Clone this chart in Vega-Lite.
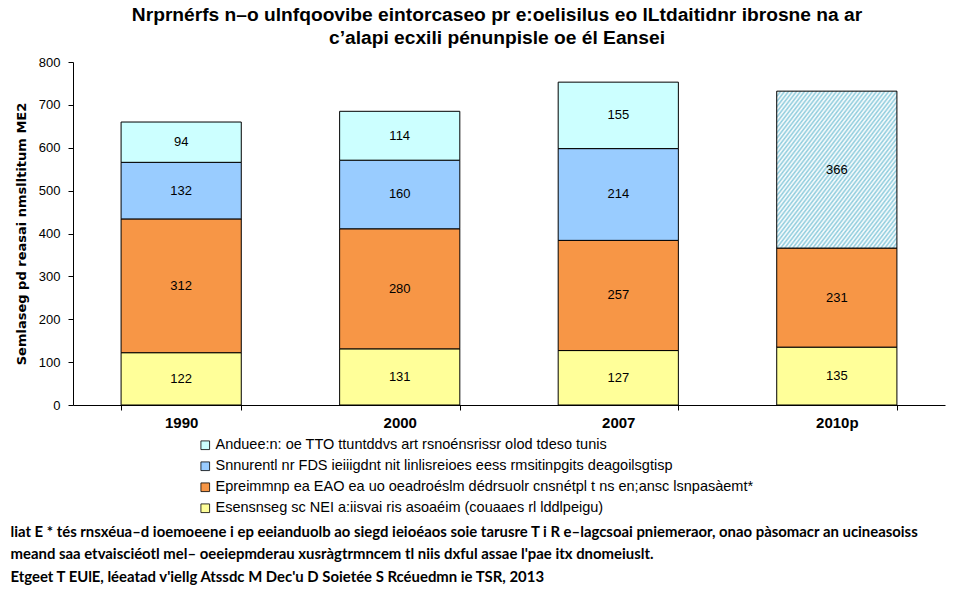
{
  "$schema": "https://vega.github.io/schema/vega-lite/v6.json",
  "width": 872,
  "height": 343,
  "autosize": {"type": "none"},
  "padding": {"left": 73, "top": 62, "right": 13, "bottom": 186},
  "background": "white",
  "config": {"view": {"stroke": null}, "font": "Liberation Sans"},
  "title": {
    "text": ["Nrprnérfs n–o ulnfqoovibe eintorcaseo pr e:oelisilus eo lLtdaitidnr ibrosne na ar", "c’alapi ecxili pénunpisle oe él Eansei"],
    "fontSize": 19.2, "fontWeight": "bold", "font": "Liberation Sans", "color": "black",
    "anchor": "middle", "dx": -12, "offset": 8, "lineHeight": 23
  },
  "data": {
    "values": [
      {"year": "1990", "cat": "Esensnseg sc NEI a:iisvai ris asoaéim (couaaes rl lddlpeigu)", "value": 122, "ord": 1},
      {"year": "1990", "cat": "Epreimmnp ea EAO ea uo oeadroéslm dédrsuolr cnsnétpl t ns en;ansc lsnpasàemt*", "value": 312, "ord": 2},
      {"year": "1990", "cat": "Snnurentl nr FDS ieiiigdnt nit linlisreioes eess rmsitinpgits deagoilsgtisp", "value": 132, "ord": 3},
      {"year": "1990", "cat": "Anduee:n: oe TTO  ttuntddvs art rsnoénsrissr olod tdeso tunis", "value": 94, "ord": 4},
      {"year": "2000", "cat": "Esensnseg sc NEI a:iisvai ris asoaéim (couaaes rl lddlpeigu)", "value": 131, "ord": 1},
      {"year": "2000", "cat": "Epreimmnp ea EAO ea uo oeadroéslm dédrsuolr cnsnétpl t ns en;ansc lsnpasàemt*", "value": 280, "ord": 2},
      {"year": "2000", "cat": "Snnurentl nr FDS ieiiigdnt nit linlisreioes eess rmsitinpgits deagoilsgtisp", "value": 160, "ord": 3},
      {"year": "2000", "cat": "Anduee:n: oe TTO  ttuntddvs art rsnoénsrissr olod tdeso tunis", "value": 114, "ord": 4},
      {"year": "2007", "cat": "Esensnseg sc NEI a:iisvai ris asoaéim (couaaes rl lddlpeigu)", "value": 127, "ord": 1},
      {"year": "2007", "cat": "Epreimmnp ea EAO ea uo oeadroéslm dédrsuolr cnsnétpl t ns en;ansc lsnpasàemt*", "value": 257, "ord": 2},
      {"year": "2007", "cat": "Snnurentl nr FDS ieiiigdnt nit linlisreioes eess rmsitinpgits deagoilsgtisp", "value": 214, "ord": 3},
      {"year": "2007", "cat": "Anduee:n: oe TTO  ttuntddvs art rsnoénsrissr olod tdeso tunis", "value": 155, "ord": 4},
      {"year": "2010p", "cat": "Esensnseg sc NEI a:iisvai ris asoaéim (couaaes rl lddlpeigu)", "value": 135, "ord": 1},
      {"year": "2010p", "cat": "Epreimmnp ea EAO ea uo oeadroéslm dédrsuolr cnsnétpl t ns en;ansc lsnpasàemt*", "value": 231, "ord": 2},
      {"year": "2010p", "cat": "FDS + TTO", "value": 366, "ord": 3}
    ]
  },
  "encoding": {
    "x": {
      "field": "year", "type": "ordinal", "sort": null,
      "scale": {"paddingInner": 0.45, "paddingOuter": 0.22},
      "axis": {
        "labelAngle": 0, "labelFont": "Liberation Sans", "labelFontSize": 15, "labelFontWeight": "bold", "labelColor": "black",
        "labelPadding": 5, "tickBand": "extent", "tickSize": 5, "tickColor": "black", "domainColor": "black",
        "title": ["liat E * tés rnsxéua–d ioemoeene i ep eeianduolb ao siegd ieioéaos soie tarusre T i R e–lagcsoai pniemeraor, onao pàsomacr an ucineasoiss", "meand saa etvaisciéotl mel– oeeiepmderau xusràgtrmncem tl niis dxful assae l'pae itx dnomeiuslt.", "Etgeet T EUlE, léeatad v'iellg Atssdc M Dec'u D Soietée S Rcéuedmn ie TSR, 2013"],
        "titleFont": "Lato", "titleFontSize": 14.9, "titleFontWeight": "bold", "titleColor": "black",
        "titleX": -63, "titleY": 119, "titleAlign": "left", "titleBaseline": "top", "titleLineHeight": 22.5, "titleAnchor": "start"
      }
    },
    "y": {
      "field": "value", "type": "quantitative", "stack": "zero",
      "scale": {"domain": [0, 800], "nice": false},
      "axis": {
        "values": [0, 100, 200, 300, 400, 500, 600, 700, 800], "grid": false,
        "labelFont": "Liberation Sans", "labelFontSize": 13, "labelColor": "black", "labelPadding": 8,
        "tickSize": 5, "tickColor": "black", "domainColor": "black",
        "title": "Semlaseg pd reasai nmslltitum ME2", "titleFont": "DejaVu Sans", "titleFontSize": 13, "titleFontWeight": "bold", "titleColor": "black", "titlePadding": 10
      }
    },
    "order": {"field": "ord", "type": "quantitative"}
  },
  "layer": [
    {
      "mark": {"type": "bar", "stroke": "black", "strokeWidth": 1},
      "encoding": {
        "fill": {
          "field": "cat", "type": "nominal",
          "condition": {
            "test": "datum.cat === 'FDS + TTO'",
            "value": {
              "gradient": "linear", "x1": 0, "y1": 0, "x2": 1, "y2": 1,
              "stops": [
                {"offset": 0, "color": "#8ccbdc"}, {"offset": 0.00833, "color": "#ffffff"}, {"offset": 0.01667, "color": "#8ccbdc"}, {"offset": 0.025, "color": "#ffffff"}, {"offset": 0.03333, "color": "#8ccbdc"}, {"offset": 0.04167, "color": "#ffffff"}, {"offset": 0.05, "color": "#8ccbdc"}, {"offset": 0.05833, "color": "#ffffff"}, {"offset": 0.06667, "color": "#8ccbdc"}, {"offset": 0.075, "color": "#ffffff"}, {"offset": 0.08333, "color": "#8ccbdc"}, {"offset": 0.09167, "color": "#ffffff"},
                {"offset": 0.1, "color": "#8ccbdc"}, {"offset": 0.10833, "color": "#ffffff"}, {"offset": 0.11667, "color": "#8ccbdc"}, {"offset": 0.125, "color": "#ffffff"}, {"offset": 0.13333, "color": "#8ccbdc"}, {"offset": 0.14167, "color": "#ffffff"}, {"offset": 0.15, "color": "#8ccbdc"}, {"offset": 0.15833, "color": "#ffffff"}, {"offset": 0.16667, "color": "#8ccbdc"}, {"offset": 0.175, "color": "#ffffff"}, {"offset": 0.18333, "color": "#8ccbdc"}, {"offset": 0.19167, "color": "#ffffff"},
                {"offset": 0.2, "color": "#8ccbdc"}, {"offset": 0.20833, "color": "#ffffff"}, {"offset": 0.21667, "color": "#8ccbdc"}, {"offset": 0.225, "color": "#ffffff"}, {"offset": 0.23333, "color": "#8ccbdc"}, {"offset": 0.24167, "color": "#ffffff"}, {"offset": 0.25, "color": "#8ccbdc"}, {"offset": 0.25833, "color": "#ffffff"}, {"offset": 0.26667, "color": "#8ccbdc"}, {"offset": 0.275, "color": "#ffffff"}, {"offset": 0.28333, "color": "#8ccbdc"}, {"offset": 0.29167, "color": "#ffffff"},
                {"offset": 0.3, "color": "#8ccbdc"}, {"offset": 0.30833, "color": "#ffffff"}, {"offset": 0.31667, "color": "#8ccbdc"}, {"offset": 0.325, "color": "#ffffff"}, {"offset": 0.33333, "color": "#8ccbdc"}, {"offset": 0.34167, "color": "#ffffff"}, {"offset": 0.35, "color": "#8ccbdc"}, {"offset": 0.35833, "color": "#ffffff"}, {"offset": 0.36667, "color": "#8ccbdc"}, {"offset": 0.375, "color": "#ffffff"}, {"offset": 0.38333, "color": "#8ccbdc"}, {"offset": 0.39167, "color": "#ffffff"},
                {"offset": 0.4, "color": "#8ccbdc"}, {"offset": 0.40833, "color": "#ffffff"}, {"offset": 0.41667, "color": "#8ccbdc"}, {"offset": 0.425, "color": "#ffffff"}, {"offset": 0.43333, "color": "#8ccbdc"}, {"offset": 0.44167, "color": "#ffffff"}, {"offset": 0.45, "color": "#8ccbdc"}, {"offset": 0.45833, "color": "#ffffff"}, {"offset": 0.46667, "color": "#8ccbdc"}, {"offset": 0.475, "color": "#ffffff"}, {"offset": 0.48333, "color": "#8ccbdc"}, {"offset": 0.49167, "color": "#ffffff"},
                {"offset": 0.5, "color": "#8ccbdc"}, {"offset": 0.50833, "color": "#ffffff"}, {"offset": 0.51667, "color": "#8ccbdc"}, {"offset": 0.525, "color": "#ffffff"}, {"offset": 0.53333, "color": "#8ccbdc"}, {"offset": 0.54167, "color": "#ffffff"}, {"offset": 0.55, "color": "#8ccbdc"}, {"offset": 0.55833, "color": "#ffffff"}, {"offset": 0.56667, "color": "#8ccbdc"}, {"offset": 0.575, "color": "#ffffff"}, {"offset": 0.58333, "color": "#8ccbdc"}, {"offset": 0.59167, "color": "#ffffff"},
                {"offset": 0.6, "color": "#8ccbdc"}, {"offset": 0.60833, "color": "#ffffff"}, {"offset": 0.61667, "color": "#8ccbdc"}, {"offset": 0.625, "color": "#ffffff"}, {"offset": 0.63333, "color": "#8ccbdc"}, {"offset": 0.64167, "color": "#ffffff"}, {"offset": 0.65, "color": "#8ccbdc"}, {"offset": 0.65833, "color": "#ffffff"}, {"offset": 0.66667, "color": "#8ccbdc"}, {"offset": 0.675, "color": "#ffffff"}, {"offset": 0.68333, "color": "#8ccbdc"}, {"offset": 0.69167, "color": "#ffffff"},
                {"offset": 0.7, "color": "#8ccbdc"}, {"offset": 0.70833, "color": "#ffffff"}, {"offset": 0.71667, "color": "#8ccbdc"}, {"offset": 0.725, "color": "#ffffff"}, {"offset": 0.73333, "color": "#8ccbdc"}, {"offset": 0.74167, "color": "#ffffff"}, {"offset": 0.75, "color": "#8ccbdc"}, {"offset": 0.75833, "color": "#ffffff"}, {"offset": 0.76667, "color": "#8ccbdc"}, {"offset": 0.775, "color": "#ffffff"}, {"offset": 0.78333, "color": "#8ccbdc"}, {"offset": 0.79167, "color": "#ffffff"},
                {"offset": 0.8, "color": "#8ccbdc"}, {"offset": 0.80833, "color": "#ffffff"}, {"offset": 0.81667, "color": "#8ccbdc"}, {"offset": 0.825, "color": "#ffffff"}, {"offset": 0.83333, "color": "#8ccbdc"}, {"offset": 0.84167, "color": "#ffffff"}, {"offset": 0.85, "color": "#8ccbdc"}, {"offset": 0.85833, "color": "#ffffff"}, {"offset": 0.86667, "color": "#8ccbdc"}, {"offset": 0.875, "color": "#ffffff"}, {"offset": 0.88333, "color": "#8ccbdc"}, {"offset": 0.89167, "color": "#ffffff"},
                {"offset": 0.9, "color": "#8ccbdc"}, {"offset": 0.90833, "color": "#ffffff"}, {"offset": 0.91667, "color": "#8ccbdc"}, {"offset": 0.925, "color": "#ffffff"}, {"offset": 0.93333, "color": "#8ccbdc"}, {"offset": 0.94167, "color": "#ffffff"}, {"offset": 0.95, "color": "#8ccbdc"}, {"offset": 0.95833, "color": "#ffffff"}, {"offset": 0.96667, "color": "#8ccbdc"}, {"offset": 0.975, "color": "#ffffff"}, {"offset": 0.98333, "color": "#8ccbdc"}, {"offset": 0.99167, "color": "#ffffff"},
                {"offset": 1, "color": "#8ccbdc"}
              ]
            }
          },
          "scale": {
            "domain": ["Anduee:n: oe TTO  ttuntddvs art rsnoénsrissr olod tdeso tunis", "Snnurentl nr FDS ieiiigdnt nit linlisreioes eess rmsitinpgits deagoilsgtisp", "Epreimmnp ea EAO ea uo oeadroéslm dédrsuolr cnsnétpl t ns en;ansc lsnpasàemt*", "Esensnseg sc NEI a:iisvai ris asoaéim (couaaes rl lddlpeigu)", "FDS + TTO"],
            "range": ["#ccffff", "#99ccff", "#f79646", "#ffff99", "#c4e5ee"]
          },
          "legend": {
            "values": ["Anduee:n: oe TTO  ttuntddvs art rsnoénsrissr olod tdeso tunis", "Snnurentl nr FDS ieiiigdnt nit linlisreioes eess rmsitinpgits deagoilsgtisp", "Epreimmnp ea EAO ea uo oeadroéslm dédrsuolr cnsnétpl t ns en;ansc lsnpasàemt*", "Esensnseg sc NEI a:iisvai ris asoaéim (couaaes rl lddlpeigu)"],
            "title": null, "orient": "none", "legendX": 125, "legendY": 376,
            "symbolType": "square", "symbolSize": 75, "symbolStrokeColor": "black", "symbolStrokeWidth": 0.8,
            "labelFont": "Liberation Sans", "labelFontSize": 14.5, "labelColor": "black", "labelLimit": 800, "labelOffset": 3,
            "rowPadding": 6
          }
        }
      }
    },
    {
      "mark": {"type": "text", "font": "Liberation Sans", "fontSize": 13, "color": "black"},
      "encoding": {
        "y": {"field": "value", "type": "quantitative", "stack": "zero", "bandPosition": 0.5},
        "text": {"field": "value", "type": "quantitative"}
      }
    }
  ]
}
